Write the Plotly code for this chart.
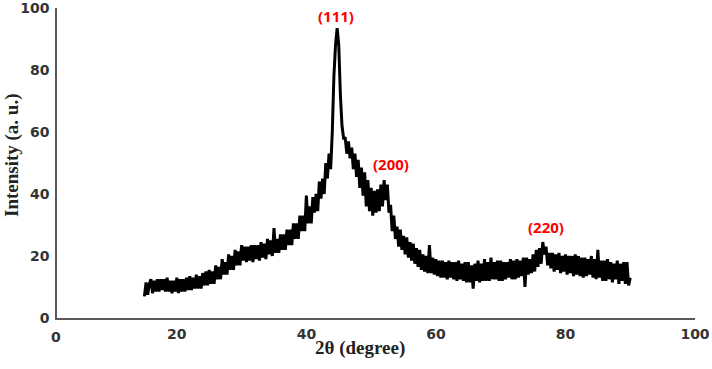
import plotly.graph_objects as go

# Scan start and step (degrees 2-theta)
scan_start = 15.0
scan_step = 0.25

# Intensity, 4 points per degree from 15 to 89.75, then 90
intensity = [
    7, 11.5, 7.5, 11,         # 15
    12.5, 8, 12, 8.5,         # 16
    12.5, 8.5, 12.5, 9,       # 17
    12.5, 8.5, 13, 8.5,       # 18
    12, 8, 12, 8.5,           # 19
    13, 8, 12.5, 8.5,         # 20
    12.5, 8.5, 13, 9,         # 21
    13.5, 9, 13, 9.5,         # 22
    14, 9.5, 13.5, 9.5,       # 23
    14.5, 10.5, 15, 10.5,     # 24
    15.5, 11, 15, 11,         # 25
    17, 12.5, 16.5, 12.5,     # 26
    19, 14, 18, 14,           # 27
    20.5, 15.5, 20, 15.5,     # 28
    22, 17, 21.5, 17,         # 29
    23.5, 18.5, 23, 18,       # 30
    23, 18.5, 23.5, 18,       # 31
    23.5, 19, 23.5, 18.5,     # 32
    24.5, 19.5, 24, 19,       # 33
    25.5, 20.5, 25, 20,       # 34
    29, 21, 25.5, 21,         # 35
    27, 22, 27, 22,           # 36
    28.5, 23.5, 28.5, 23.5,   # 37
    30.5, 25.5, 30.5, 25.5,   # 38
    33, 28, 33, 28,           # 39
    39.5, 30.5, 36, 30.5,     # 40
    39, 34, 40, 34.5,         # 41
    44, 38.5, 45, 40,         # 42
    50, 45, 53, 48,           # 43
    60, 78, 88, 93.5,         # 44
    88, 72, 62, 58,           # 45
    58, 53, 57, 51.5,         # 46
    55, 48, 53, 45.5,         # 47
    51, 42, 48.5, 39.5,       # 48
    47, 36, 44.5, 34.5,       # 49
    42, 33, 41, 34,           # 50
    41.5, 34.5, 43, 36,       # 51
    44.5, 38, 43, 34,         # 52
    36.5, 28, 33, 25.5,       # 53
    29.5, 23, 28.5, 22,       # 54
    26.5, 20.5, 26, 19.5,     # 55
    24.5, 18.5, 24, 17.5,     # 56
    22.5, 16.5, 22, 15.5,     # 57
    20.5, 15, 20, 14.5,       # 58
    23.5, 14.5, 19.5, 14,     # 59
    19, 13.5, 18.5, 13,       # 60
    18.5, 13, 18, 12.5,       # 61
    18.5, 13, 18, 12.5,       # 62
    18, 12, 18.5, 12.5,       # 63
    17.5, 12, 18, 11.5,       # 64
    18, 11.5, 17, 9.5,        # 65
    17.5, 12, 18.5, 11.5,     # 66
    17.5, 12, 19, 12,         # 67
    18, 12, 19.5, 12.5,       # 68
    18, 12.5, 18.5, 12,       # 69
    18.5, 12, 18, 12.5,       # 70
    18, 13, 19, 12.5,         # 71
    18.5, 12.5, 19, 13,       # 72
    18.5, 13.5, 19.5, 10,     # 73
    19.5, 14, 19, 14.5,       # 74
    20.5, 15, 22, 16.5,       # 75
    22.5, 17.5, 24.5, 20.5,   # 76
    23, 17, 21, 16,           # 77
    21, 15, 20.5, 15.5,       # 78
    21, 14.5, 20, 15,         # 79
    20.5, 14, 20, 14.5,       # 80
    20, 13.5, 20.5, 14,       # 81
    20, 13.5, 19.5, 13,       # 82
    19.5, 13.5, 19, 14,       # 83
    20, 13, 19, 12.5,         # 84
    22, 13, 18.5, 12,         # 85
    18.5, 12, 19, 12.5,       # 86
    18, 11.5, 17.5, 12.5,     # 87
    18.5, 11, 17.5, 12,       # 88
    18, 11, 18, 10.5,         # 89
    13,                       # 90
]
two_theta = [round(scan_start + scan_step * i, 2) for i in range(len(intensity))]

# Peak labels
peak_labels = ["(111)", "(200)", "(220)"]
peak_x = [44.56, 53.0, 77.0]
peak_y = [97.4, 49.7, 29.4]

x_ticks = [20, 40, 60, 80, 100]
y_ticks = [0, 20, 40, 60, 80, 100]

tick_font = dict(family="DejaVu Sans", size=14, color="#333333")
title_font = dict(family="Liberation Serif", size=19, color="#222222")

fig = go.Figure()
fig.add_trace(go.Scatter(
    x=two_theta, y=intensity, mode="lines",
    line=dict(color="black", width=3, simplify=False),
    showlegend=False, hoverinfo="skip",
))

for t, xv, yv in zip(peak_labels, peak_x, peak_y):
    fig.add_annotation(x=xv, y=yv, text=f"<b>{t}</b>", showarrow=False,
                       font=dict(family="Open Sans", size=15, color="#FF0000"),
                       xanchor="center", yanchor="middle")

# "0" tick label sits at the y-axis line
fig.add_annotation(xref="paper", yref="paper", x=0, y=0, text="<b>0</b>",
                   showarrow=False, yanchor="middle", xanchor="center",
                   xshift=-1, yshift=-19, font=tick_font)

# Axis titles
fig.add_annotation(xref="paper", yref="paper", x=0, y=0.5, xshift=-45, yshift=8,
                   text="<b>Intensity (a. u.)</b>", textangle=-90, showarrow=False,
                   xanchor="center", yanchor="middle", font=title_font)
fig.add_annotation(xref="paper", yref="paper", x=0.475, y=0, yshift=-30,
                   text="<b>2θ (degree)</b>", showarrow=False,
                   xanchor="center", yanchor="middle", font=title_font)

fig.update_layout(
    width=712, height=369,
    margin=dict(l=57, r=17, t=8, b=51, autoexpand=False),
    plot_bgcolor="white", paper_bgcolor="white",
    xaxis=dict(range=[1.5, 100], tickvals=x_ticks,
               ticktext=[f"<b>{v}</b>" for v in x_ticks],
               showgrid=False, zeroline=False, automargin=False,
               showline=True, linecolor="#595959", linewidth=1.5, ticks="",
               tickfont=tick_font, ticklabelstandoff=2, ticklabeloverflow="allow"),
    yaxis=dict(range=[0, 100], tickvals=y_ticks,
               ticktext=[f"<b>{v}</b>" for v in y_ticks],
               showgrid=False, zeroline=False, automargin=False,
               showline=True, linecolor="#595959", linewidth=1.5, ticks="",
               tickfont=tick_font, ticklabelstandoff=3, ticklabeloverflow="allow"),
)

fig.write_html("out.html", config={"displayModeBar": False},
               post_script="document.body.style.margin='0';")
